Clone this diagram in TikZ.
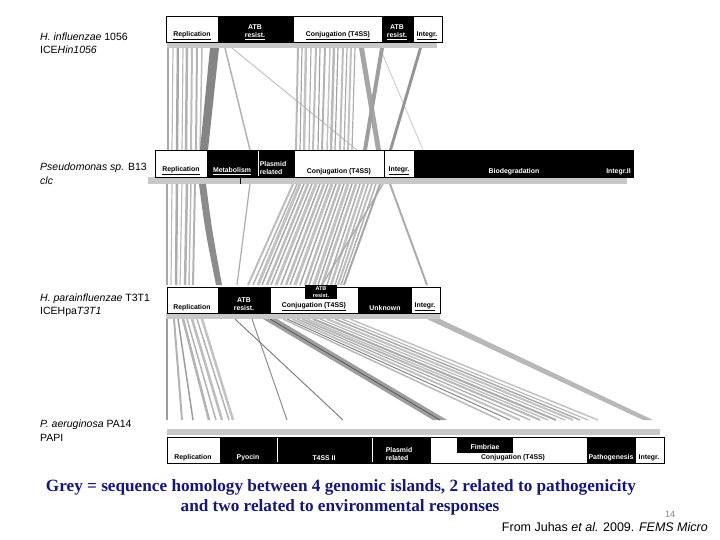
\documentclass[tikz,border=0pt]{standalone}
\usepackage{fontspec}
\setmainfont{Liberation Serif}
\setsansfont{Liberation Sans}
\definecolor{navy}{RGB}{22,22,128}
\definecolor{stripgrey}{RGB}{200,200,200}
\tikzset{
  wseg/.style={draw=black, fill=white, line width=0.9pt},
  bseg/.style={draw=black, fill=black, line width=0.9pt},
  strip/.style={fill=stripgrey, draw=none},
  lbl/.style={font=\sffamily\bfseries\fontsize{6.9}{8.5}\selectfont, anchor=south, inner sep=1pt, align=center},
  wlbl/.style={lbl, text=white},
  tinylbl/.style={font=\sffamily\bfseries\fontsize{5.5}{7}\selectfont, text=white, inner sep=0pt, align=center},
  species/.style={font=\sffamily\fontsize{10.5}{12}\selectfont, anchor=west, inner sep=0pt},
  caption/.style={font=\bfseries\fontsize{17.2}{20}\selectfont, text=navy, inner sep=0pt},
  hom/.style={draw opacity=0.85}
}
\begin{document}
\begin{tikzpicture}[x=1pt,y=-1pt]
\useasboundingbox (0,0) rectangle (720,540);
\fill[white] (0,0) rectangle (720,540);

% ---------- homology region A (island 1 -> island 2)
\foreach \t/\b/\w/\g in {
168/168/1.5/40, 173/172/1.2/30, 178/177/2.5/40, 183/182/1.2/30, 187/186/2.5/35, 192/191/2/30,
197/196/2/35, 202/200/1.5/30,
225/250/1.5/35, 232/357/1/28,
298/296/2/32, 302/300/1.2/40, 306/304/2.5/28, 311/309/1.2/36, 316/313/2/30, 320/318/1.2/42,
325/322/2/34, 330/327/1.5/28, 334/331/2.5/32, 338/335/1.2/42, 343/340/2/30, 347/344/1.2/38,
351/348/2/28, 355/352/1.2/36, 380/423/0.8/25}
  \draw[hom, line width=\w pt, draw=black!\g] (\t,48) -- (\b,150);
\fill[black!48] (210,48) -- (219,48) -- (208,150) -- (200,150) -- cycle;
\fill[black!35] (359,48) -- (364,48) -- (381,150) -- (376,150) -- cycle;
\fill[black!38] (380,48) -- (384,48) -- (367,150) -- (363,150) -- cycle;
\fill[black!42] (419,48) -- (422,48) -- (392,150) -- (389,150) -- cycle;

% ---------- homology region B (island 2 -> island 3)
\foreach \t/\b/\w/\g in {
167/167/1.5/40, 172/171/1.2/30, 177/176/2.5/38, 182/180/1.2/30, 187/185/2.5/35, 191/189/1.5/30,
195/193/2/35, 250/237/1.2/38,
293/248/2/30, 297/253/1.5/35, 300/258/3/28, 304/262/1.5/40, 308/267/2.5/30, 312/271/1.5/38,
316/276/3/28, 320/281/1.5/40, 324/286/2.5/30, 328/290/1.5/38, 332/295/3/28, 336/300/1.5/40,
340/305/2.5/30, 344/309/1.5/38, 348/314/3/28, 352/318/1.5/40, 356/322/2.5/30, 360/327/1.5/38,
364/331/2.5/28, 368/335/1.5/35, 372/338/2/30, 376/341/1.5/35, 380/344/2/40, 383/322/1.5/35,
390/427/2/38}
  \draw[hom, line width=\w pt, draw=black!\g] (\t,184) -- (\b,285);
\fill[black!45] (199,184) .. controls (205,230) .. (216,285) -- (222,285) .. controls (212,230) .. (206,184) -- cycle;

% ---------- homology region C (island 3 -> island 4)
\foreach \t/\b/\w/\g in {
167/167/1.5/45, 174/182/2/35, 178/193/1.5/45, 183/209/2.5/35, 187/216/1.5/35, 192/222/2.5/30,
197/229/1.5/35, 202/233/2.5/28, 235/343/1/58, 252/287/1/52,
283/500/1.5/32, 287/510/1/55, 292/520/2/28, 297/530/1.2/38, 302/540/2/32, 307/548/1.5/28,
313/556/2/38, 320/565/1.2/32, 327/573/2/28, 335/580/1.5/38, 342/588/1.2/32, 350/598/1.5/28}
  \draw[hom, line width=\w pt, draw=black!\g] (\t,319) -- (\b,420);
\fill[black!38] (263,319) -- (277,319) -- (447,420) -- (433,420) -- cycle;
\draw[black!65, line width=0.8pt] (270,319) -- (440,420);
\fill[black!28] (427,319) -- (440,319) -- (653,420) -- (643,420) -- cycle;

% ---------- grey strips
\fill[strip] (167,42) rectangle (437,48);
\fill[strip] (148,177) rectangle (627,184);
\fill[strip] (166,313) rectangle (440,319);
\fill[strip] (167,429) rectangle (660,435);

% ---------- island 1: H. influenzae ICEHin1056
\draw[wseg] (166,16) rectangle (218,42);
\draw[bseg] (218,16) rectangle (293,42);
\draw[wseg] (293,16) rectangle (382,42);
\draw[bseg] (382,16) rectangle (413,42);
\draw[wseg] (413,16) rectangle (442,42);
\node[lbl] (a1) at (192,41) {\underline{Replication}};
\node[wlbl] (a2) at (255,41) {ATB\\\underline{resist.}};
\node[lbl] (a3) at (338,41) {\underline{Conjugation (T4SS)}};
\node[wlbl] (a4) at (397,41) {ATB\\\underline{resist.}};
\node[lbl] (a5) at (427,41) {\underline{Integr.}};

% ---------- island 2: Pseudomonas clc
\draw[wseg] (155,150) rectangle (207,177);
\draw[bseg] (207,150) rectangle (633,177);
\draw[white, line width=0.5pt] (258,151) -- (258,176);
\draw[wseg] (294,150) rectangle (384,177);
\draw[wseg] (384,150) rectangle (414,177);
\draw[black, line width=1pt] (240,177) -- (240,184);
\node[lbl] (b1) at (181,176) {\underline{Replication}};
\node[wlbl] (b2) at (232,176) {\underline{Metabolism}};
\node[wlbl, align=left] (b3) at (273,176) {Plasmid\\related};
\node[lbl] (b4) at (339,176) {Conjugation (T4SS)};
\node[lbl] (b5) at (399,176) {\underline{Integr.}};
\node[wlbl] (b6) at (514,176) {Biodegradation};
\node[wlbl, anchor=south east] (b7) at (632,176) {Integr.II};

% ---------- island 3: H. parainfluenzae ICEHpaT3T1
\draw[wseg] (167,287) rectangle (218,313);
\draw[bseg] (218,287) rectangle (270,313);
\draw[wseg] (270,287) rectangle (358,313);
\draw[bseg] (358,287) rectangle (411,313);
\draw[wseg] (411,287) rectangle (440,313);
\fill[black] (305,285) rectangle (337,299);
\node[lbl] (c1) at (192,312) {Replication};
\node[wlbl] (c2) at (244,312) {ATB\\resist.};
\node[lbl] (c3) at (314,312) {\underline{Conjugation (T4SS)}};
\node[tinylbl] (c4) at (321,292) {ATB\\resist.};
\node[wlbl] (c5) at (385,312) {Unknown};
\node[lbl] (c6) at (425,312) {\underline{Integr.}};

% ---------- island 4: P. aeruginosa PAPI
\draw[wseg] (167,437) rectangle (220,463);
\draw[bseg] (220,437) rectangle (430,463);
\draw[white, line width=0.5pt] (277,438) -- (277,462);
\draw[white, line width=0.5pt] (372,438) -- (372,462);
\draw[wseg] (430,437) rectangle (587,463);
\draw[bseg] (587,437) rectangle (635,463);
\draw[wseg] (635,437) rectangle (664,463);
\fill[black] (457,437) rectangle (513,453);
\node[lbl] (d1) at (193,462) {Replication};
\node[wlbl] (d2) at (248,462) {Pyocin};
\node[wlbl] (d3) at (324,462) {T4SS II};
\node[wlbl, align=left] (d4) at (399,462) {Plasmid\\related};
\node[wlbl, anchor=center] (d5) at (485,447) {Fimbriae};
\node[lbl] (d6) at (513,462) {Conjugation (T4SS)};
\node[wlbl] (d7) at (611,462) {Pathogenesis};
\node[lbl] (d8) at (649,462) {Integr.};

% ---------- species labels
\node[species] (s1a) at (40,37) {\textit{H. influenzae} 1056};
\node[species] (s1b) at (40,50) {ICE\textit{Hin1056}};
\node[species] (s2a) at (40,168) {\textit{Pseudomonas sp.} B13};
\node[species] (s2b) at (40,181) {\textit{clc}};
\node[species] (s3a) at (40,299) {\textit{H. parainfluenzae} T3T1};
\node[species] (s3b) at (40,312) {ICEHpa\textit{T3T1}};
\node[species] (s4a) at (40,425) {\textit{P. aeruginosa} PA14};
\node[species] (s4b) at (40,438) {PAPI};

% ---------- caption
\node[caption] (cap1) at (341,487) {Grey = sequence homology between 4 genomic islands, 2 related to pathogenicity};
\node[caption] (cap2) at (340,507) {and two related to environmental responses};
\node[font=\sffamily\fontsize{9}{10}\selectfont, text=black!50, inner sep=0pt] (pg) at (670,514) {14};
\node[font=\sffamily\fontsize{12.5}{14}\selectfont, anchor=east, inner sep=0pt] (src) at (708,527) {From Juhas \textit{et al.} 2009. \textit{FEMS Micro}};
\end{tikzpicture}
\end{document}
